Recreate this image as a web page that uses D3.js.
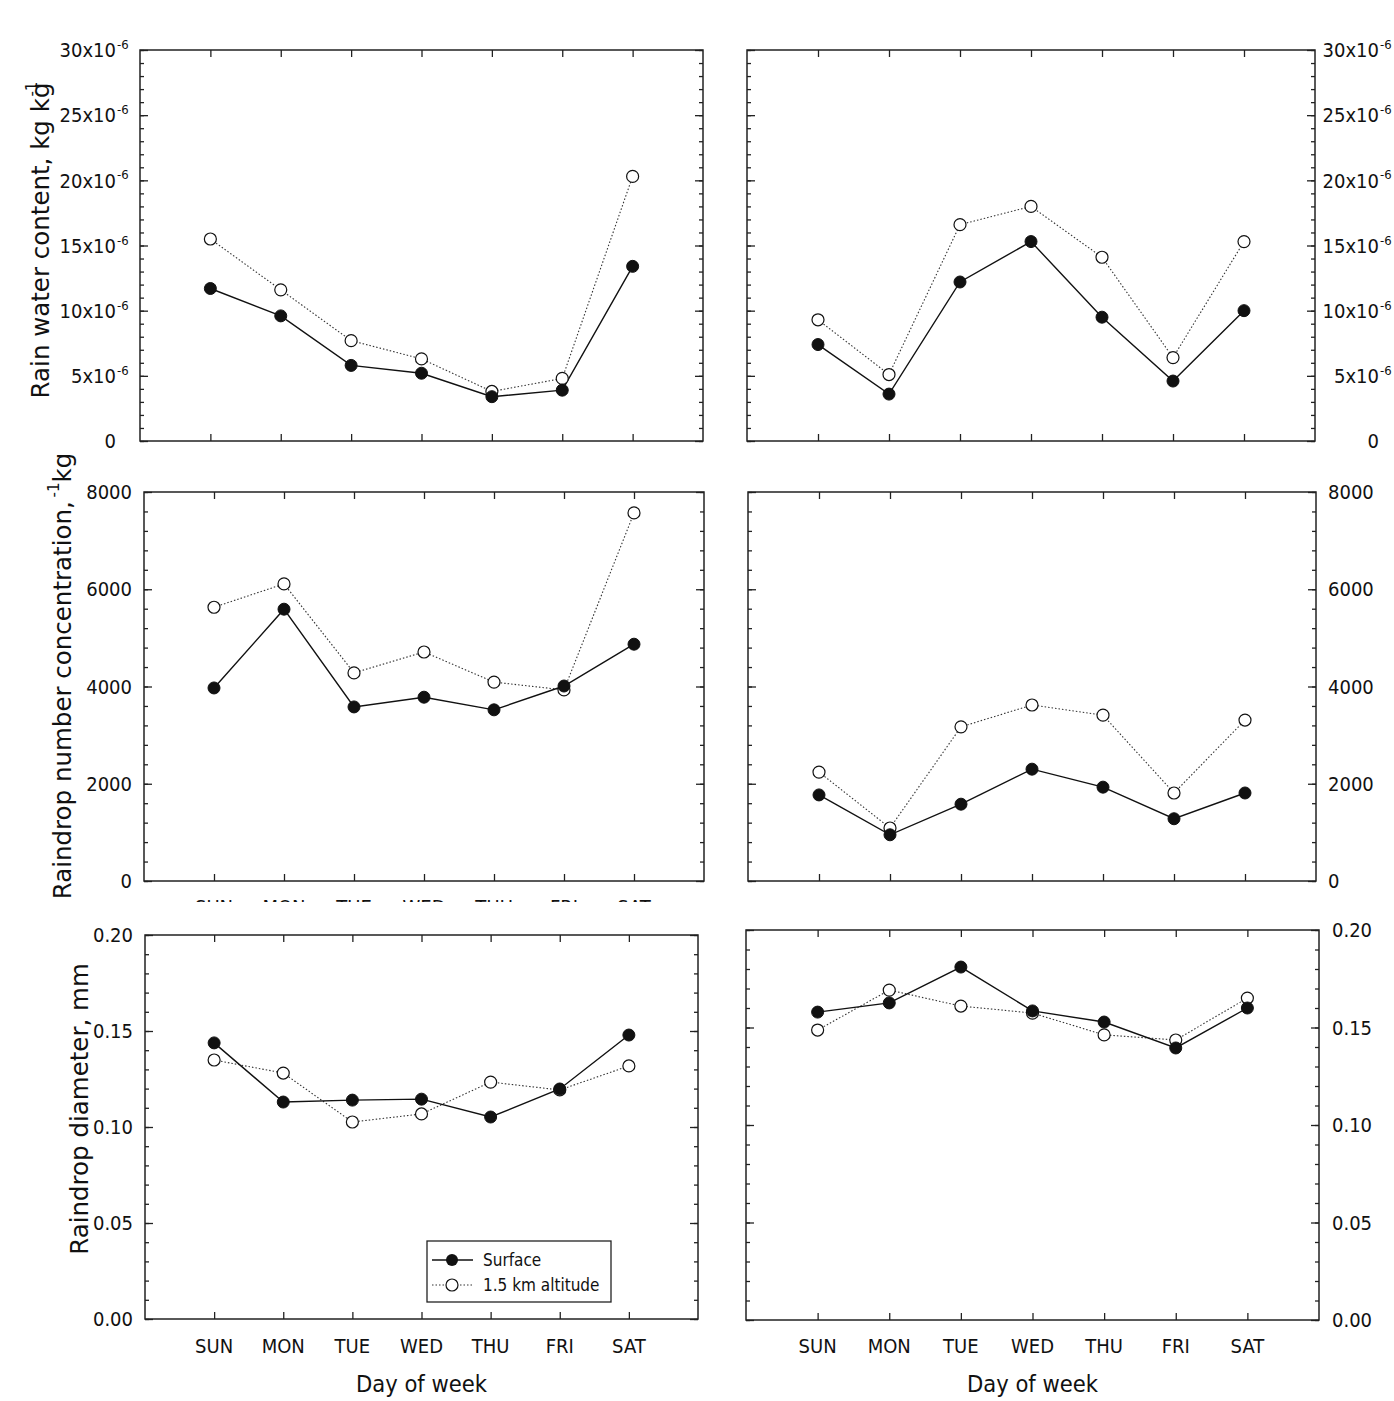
<!DOCTYPE html>
<html>
<head>
<meta charset="utf-8">
<script src="https://cdn.jsdelivr.net/npm/d3@7"></script>
<style>
  html, body { margin: 0; padding: 0; background: #fff; }
  svg { display: block; }
  text { font-family: "DejaVu Sans Condensed", "DejaVu Sans", sans-serif; fill: #111; }
</style>
</head>
<body>
<svg id="chart" width="1394" height="1401"></svg>
<script>
// ---------------- DATA ----------------
const days = ["SUN", "MON", "TUE", "WED", "THU", "FRI", "SAT"];

// Rain water content (kg kg^-1)
const rwcLeftSurface  = [11.7e-6, 9.6e-6, 5.8e-6, 5.2e-6, 3.4e-6, 3.9e-6, 13.4e-6];
const rwcLeftAlt      = [15.5e-6, 11.6e-6, 7.7e-6, 6.3e-6, 3.8e-6, 4.8e-6, 20.3e-6];
const rwcRightSurface = [7.4e-6, 3.6e-6, 12.2e-6, 15.3e-6, 9.5e-6, 4.6e-6, 10.0e-6];
const rwcRightAlt     = [9.3e-6, 5.1e-6, 16.6e-6, 18.0e-6, 14.1e-6, 6.4e-6, 15.3e-6];

// Raindrop number concentration (kg^-1)
const ncLeftSurface  = [3970, 5590, 3580, 3780, 3520, 4010, 4870];
const ncLeftAlt      = [5630, 6110, 4280, 4710, 4090, 3930, 7570];
const ncRightSurface = [1770, 950, 1580, 2300, 1930, 1280, 1810];
const ncRightAlt     = [2240, 1090, 3170, 3620, 3410, 1810, 3310];

// Raindrop diameter (mm)
const dLeftSurface  = [0.1438, 0.1130, 0.1140, 0.1145, 0.1052, 0.1198, 0.1479];
const dLeftAlt      = [0.1349, 0.1281, 0.1026, 0.1068, 0.1234, 0.1193, 0.1318];
const dRightSurface = [0.1579, 0.1626, 0.1810, 0.1585, 0.1528, 0.1395, 0.1600];
const dRightAlt     = [0.1487, 0.1692, 0.1610, 0.1574, 0.1462, 0.1436, 0.1651];

// tick values
const rwcTicks = [0, 5e-6, 10e-6, 15e-6, 20e-6, 25e-6, 30e-6];
const ncTicks  = [0, 2000, 4000, 6000, 8000];
const dTicks   = [0.00, 0.05, 0.10, 0.15, 0.20];

const legendLabels = ["Surface", "1.5 km altitude"];
const xTitle = "Day of week";

// ---------------- LAYOUT ----------------
const svg = d3.select("#chart");

function rwcFmt(v) { return v === 0 ? {base: "0", sup: ""} : {base: Math.round(v * 1e6) + "x10", sup: "-6"}; }
function ncFmt(v) { return {base: String(v), sup: ""}; }
function dFmt(v) { return {base: v.toFixed(2), sup: ""}; }

const panels = [
  {x: [140, 703], y: [441, 50],  dom: [0, 30e-6], ticks: rwcTicks, minor: 1e-6, fmt: rwcFmt, side: "left",  labelX: 116, s: rwcLeftSurface, a: rwcLeftAlt},
  {x: [747, 1315], y: [441, 50], dom: [0, 30e-6], ticks: rwcTicks, minor: 1e-6, fmt: rwcFmt, side: "rightEnd", labelX: 1379, s: rwcRightSurface, a: rwcRightAlt},
  {x: [144, 704], y: [881, 492], dom: [0, 8000], ticks: ncTicks, minor: 400, fmt: ncFmt, side: "left", labelX: 132, s: ncLeftSurface, a: ncLeftAlt, cutLabels: true},
  {x: [748, 1316], y: [881, 492], dom: [0, 8000], ticks: ncTicks, minor: 400, fmt: ncFmt, side: "right", labelX: 1328, s: ncRightSurface, a: ncRightAlt},
  {x: [145, 698], y: [1319, 935], dom: [0, 0.2], ticks: dTicks, minor: 0.01, fmt: dFmt, side: "left", labelX: 133, s: dLeftSurface, a: dLeftAlt, xLabels: true, legend: true},
  {x: [746, 1319], y: [1320, 930], dom: [0, 0.2], ticks: dTicks, minor: 0.01, fmt: dFmt, side: "right", labelX: 1332, s: dRightSurface, a: dRightAlt, xLabels: true}
];

const defs = svg.append("defs");
defs.append("clipPath").attr("id", "cutclip")
  .append("rect").attr("x", 140).attr("y", 880).attr("width", 600).attr("height", 22);

panels.forEach((p, pi) => {
  const x = d3.scaleLinear().domain([0, 8]).range(p.x);
  const y = d3.scaleLinear().domain(p.dom).range(p.y);
  const g = svg.append("g");
  const x0 = p.x[0], x1 = p.x[1], yb = p.y[0], yt = p.y[1];

  const nMinor = Math.round((p.dom[1] - p.dom[0]) / p.minor);
  const minorVals = d3.range(nMinor + 1).map(i => p.dom[0] + i * p.minor);

  const axL = g.append("g").attr("transform", `translate(${x0},0)`)
    .call(d3.axisRight(y).tickValues(minorVals).tickSize(4).tickFormat(""));
  const axL2 = g.append("g").attr("transform", `translate(${x0},0)`)
    .call(d3.axisRight(y).tickValues(p.ticks).tickSize(8).tickFormat(""));
  const axR = g.append("g").attr("transform", `translate(${x1},0)`)
    .call(d3.axisLeft(y).tickValues(minorVals).tickSize(4).tickFormat(""));
  const axR2 = g.append("g").attr("transform", `translate(${x1},0)`)
    .call(d3.axisLeft(y).tickValues(p.ticks).tickSize(8).tickFormat(""));
  const dayIdx = days.map((d, i) => i + 1);
  const axB = g.append("g").attr("transform", `translate(0,${yb})`)
    .call(d3.axisTop(x).tickValues(dayIdx).tickSize(7).tickFormat(""));
  const axT = g.append("g").attr("transform", `translate(0,${yt})`)
    .call(d3.axisBottom(x).tickValues(dayIdx).tickSize(7).tickFormat(""));
  [axL, axL2, axR, axR2, axB, axT].forEach(a => {
    a.select(".domain").remove();
    a.selectAll("line").attr("stroke", "#222").attr("stroke-width", 1.3);
  });

  g.append("rect").attr("x", x0).attr("y", yt).attr("width", x1 - x0).attr("height", yb - yt)
    .attr("fill", "none").attr("stroke", "#222").attr("stroke-width", 1.5);

  p.ticks.forEach(v => {
    const f = p.fmt(v);
    const t = g.append("text").attr("y", y(v)).attr("dy", "0.36em").style("font-size", "20px");
    if (p.side === "left" || p.side === "rightEnd") {
      t.attr("x", p.labelX).attr("text-anchor", "end").text(f.base);
    } else {
      t.attr("x", p.labelX).attr("text-anchor", "start").text(f.base);
    }
    if (f.sup) {
      g.append("text").attr("x", p.labelX + 1).attr("y", y(v) - 1)
        .attr("text-anchor", "start").style("font-size", "13px").text(f.sup);
    }
  });

  if (p.xLabels) {
    g.selectAll("text.xl").data(days).join("text").attr("class", "xl")
      .attr("x", (d, i) => x(i + 1)).attr("y", 1353).attr("text-anchor", "middle")
      .style("font-size", "20px").text(d => d);
    g.append("text").attr("x", (x0 + x1) / 2).attr("y", 1392).attr("text-anchor", "middle")
      .style("font-size", "23.5px").text(xTitle);
  }
  if (p.cutLabels) {
    g.append("g").attr("clip-path", "url(#cutclip)")
      .selectAll("text").data(days).join("text")
      .attr("x", (d, i) => x(i + 1)).attr("y", 914).attr("text-anchor", "middle")
      .style("font-size", "20px").text(d => d);
  }

  const line = d3.line().x((d, i) => x(i + 1)).y(d => y(d));
  g.append("path").datum(p.a).attr("d", line).attr("fill", "none")
    .attr("stroke", "#333").attr("stroke-width", 1.1).attr("stroke-dasharray", "1.5,2");
  g.append("path").datum(p.s).attr("d", line).attr("fill", "none")
    .attr("stroke", "#111").attr("stroke-width", 1.4);
  g.selectAll("circle.a").data(p.a).join("circle").attr("class", "a")
    .attr("cx", (d, i) => x(i + 1)).attr("cy", d => y(d)).attr("r", 6)
    .attr("fill", "#fff").attr("stroke", "#111").attr("stroke-width", 1.2);
  g.selectAll("circle.s").data(p.s).join("circle").attr("class", "s")
    .attr("cx", (d, i) => x(i + 1)).attr("cy", d => y(d)).attr("r", 6)
    .attr("fill", "#111").attr("stroke", "#111").attr("stroke-width", 1);

  if (p.legend) {
    const lg = svg.append("g");
    lg.append("rect").attr("x", 427).attr("y", 1241).attr("width", 184).attr("height", 61)
      .attr("fill", "#fff").attr("stroke", "#222").attr("stroke-width", 1.3);
    lg.append("line").attr("x1", 432).attr("x2", 473).attr("y1", 1260).attr("y2", 1260)
      .attr("stroke", "#111").attr("stroke-width", 1.4);
    lg.append("circle").attr("cx", 452).attr("cy", 1260).attr("r", 6).attr("fill", "#111");
    lg.append("line").attr("x1", 432).attr("x2", 473).attr("y1", 1285).attr("y2", 1285)
      .attr("stroke", "#333").attr("stroke-width", 1.1).attr("stroke-dasharray", "1.5,2");
    lg.append("circle").attr("cx", 452).attr("cy", 1285).attr("r", 6).attr("fill", "#fff")
      .attr("stroke", "#111").attr("stroke-width", 1.2);
    lg.append("text").attr("x", 483).attr("y", 1266).style("font-size", "17px").text(legendLabels[0]);
    lg.append("text").attr("x", 483).attr("y", 1291).style("font-size", "17px").text(legendLabels[1]);
  }
});

function yTitle(cx, cy, parts) {
  const t = svg.append("text").attr("transform", `translate(${cx},${cy}) rotate(-90)`)
    .attr("text-anchor", "middle").style("font-family", "'DejaVu Sans', sans-serif").style("font-size", "24.5px");
  parts.forEach(pt => {
    const s = t.append("tspan").text(pt.t);
    if (pt.sup) s.attr("dy", -12).attr("dx", pt.dx || 0).style("font-size", "15px");
    if (pt.down) s.attr("dy", 12);
  });
}
yTitle(49, 240, [{t: "Rain water content, kg kg"}, {t: "-1", sup: true, dx: -14}]);
yTitle(71, 676, [{t: "Raindrop number concentration, "}, {t: "-1", sup: true, dx: -4}, {t: "kg", down: true}]);
yTitle(88, 1109, [{t: "Raindrop diameter, mm"}]);
</script>
</body>
</html>
